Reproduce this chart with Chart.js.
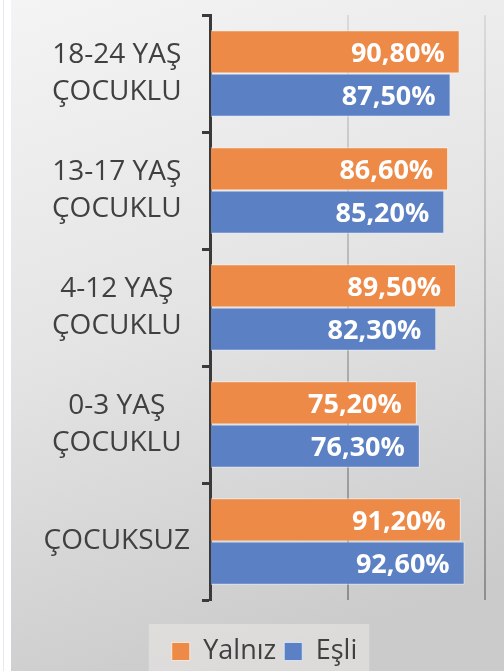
<!DOCTYPE html>
<html>
<head>
<meta charset="utf-8">
<script src="https://cdn.jsdelivr.net/npm/chart.js@4.4.1/dist/chart.umd.min.js"></script>
<style>
html,body{margin:0;padding:0;background:#fff;}
#wrap{width:504px;height:671px;position:relative;}
</style>
</head>
<body>
<div id="wrap"><canvas id="c" width="504" height="671"></canvas></div>
<script>
const categories = [
  ['18-24 YAŞ', 'ÇOCUKLU'],
  ['13-17 YAŞ', 'ÇOCUKLU'],
  ['4-12 YAŞ', 'ÇOCUKLU'],
  ['0-3 YAŞ', 'ÇOCUKLU'],
  'ÇOCUKSUZ'
];
const seriesNames = ['Yalnız', 'Eşli'];
const yalnizValues = [90.8, 86.6, 89.5, 75.2, 91.2];
const esliValues = [87.5, 85.2, 82.3, 76.3, 92.6];
const axisMin = 0;
const axisMax = 100;
const axisStep = 50;

const FONT = "'Open Sans', sans-serif";
const LEGEND_SHIFT = 7;

const bgPlugin = {
  id: 'bg',
  afterLayout(chart) {
    const lg = chart.legend;
    if (lg) { lg.left += LEGEND_SHIFT; lg.right += LEGEND_SHIFT; }
  },
  beforeDraw(chart) {
    const ctx = chart.ctx;
    const W = chart.width, H = chart.height;
    ctx.save();
    ctx.fillStyle = '#ffffff';
    ctx.fillRect(0, 0, W, H);
    ctx.fillStyle = '#e6e9ee';
    ctx.fillRect(3, 0, 1, H);
    const g = ctx.createLinearGradient(0, 0, 220, H);
    g.addColorStop(0, '#f4f4f4');
    g.addColorStop(0.5, '#e4e4e4');
    g.addColorStop(1, '#cbcbcb');
    ctx.fillStyle = g;
    ctx.fillRect(11, 0, W - 11, H);
    const lg = chart.legend;
    if (lg && lg.legendHitBoxes && lg.legendHitBoxes.length) {
      const hb = lg.legendHitBoxes;
      const x0 = hb[0].left - 23;
      const x1 = hb[hb.length - 1].left + hb[hb.length - 1].width + 12;
      ctx.fillStyle = 'rgba(236,234,232,0.55)';
      ctx.fillRect(x0, hb[0].top - 14, x1 - x0, H);
    }
    ctx.restore();
  }
};

const labelPlugin = {
  id: 'valueLabels',
  afterDatasetsDraw(chart) {
    const ctx = chart.ctx;
    ctx.save();
    ctx.font = "bold 27px " + FONT;
    ctx.fillStyle = '#ffffff';
    ctx.textAlign = 'right';
    ctx.textBaseline = 'middle';
    chart.data.datasets.forEach((ds, di) => {
      const meta = chart.getDatasetMeta(di);
      meta.data.forEach((el, i) => {
        const v = ds.data[i];
        const txt = v.toFixed(2).replace('.', ',') + '%';
        ctx.fillText(txt, el.x - 15, el.y + 2);
      });
    });
    ctx.restore();
  }
};

new Chart(document.getElementById('c'), {
  type: 'bar',
  data: {
    labels: categories,
    datasets: [
      {
        label: seriesNames[0],
        data: yalnizValues,
        backgroundColor: '#ED8A48',
        borderColor: 'rgba(255,240,225,0.8)',
        borderWidth: 1,
        categoryPercentage: 0.74,
        barPercentage: 1.0
      },
      {
        label: seriesNames[1],
        data: esliValues,
        backgroundColor: '#5B81C4',
        borderColor: 'rgba(225,235,255,0.8)',
        borderWidth: 1,
        categoryPercentage: 0.74,
        barPercentage: 1.0
      }
    ]
  },
  options: {
    indexAxis: 'y',
    responsive: false,
    animation: false,
    devicePixelRatio: 1,
    layout: { padding: { top: 15, right: 19, left: 30, bottom: -4 } },
    plugins: {
      legend: {
        position: 'bottom',
        labels: {
          color: '#404040',
          font: { family: FONT, size: 27 },
          boxWidth: 18,
          boxHeight: 18,
          padding: 8
        }
      },
      tooltip: { enabled: false }
    },
    scales: {
      x: {
        min: axisMin,
        max: axisMax,
        ticks: { display: false, stepSize: axisStep },
        border: { display: false },
        grid: {
          drawTicks: false,
          lineWidth: 2,
          color: (ctx) => {
            const c = ctx.chart;
            const area = c.chartArea;
            if (!area) return '#c0c0c0';
            const g = c.ctx.createLinearGradient(0, area.top, 0, area.bottom);
            g.addColorStop(0, '#dadada');
            g.addColorStop(1, '#8e8e8e');
            return g;
          }
        },
        afterFit(scale) { scale.height = 30; }
      },
      y: {
        ticks: {
          color: '#404040',
          font: { family: FONT, size: 28, lineHeight: 1.3 },
          crossAlign: 'center',
          padding: 12
        },
        border: { color: '#3a3a3a', width: 3 },
        grid: {
          drawOnChartArea: false,
          drawTicks: true,
          tickLength: 8,
          tickWidth: 3,
          tickColor: '#3a3a3a',
          offset: true
        },
        afterFit(scale) {
          scale.width = 180;
          scale.paddingTop = 0;
          scale.paddingBottom = 0;
        }
      }
    }
  },
  plugins: [bgPlugin, labelPlugin]
});
</script>
</body>
</html>
